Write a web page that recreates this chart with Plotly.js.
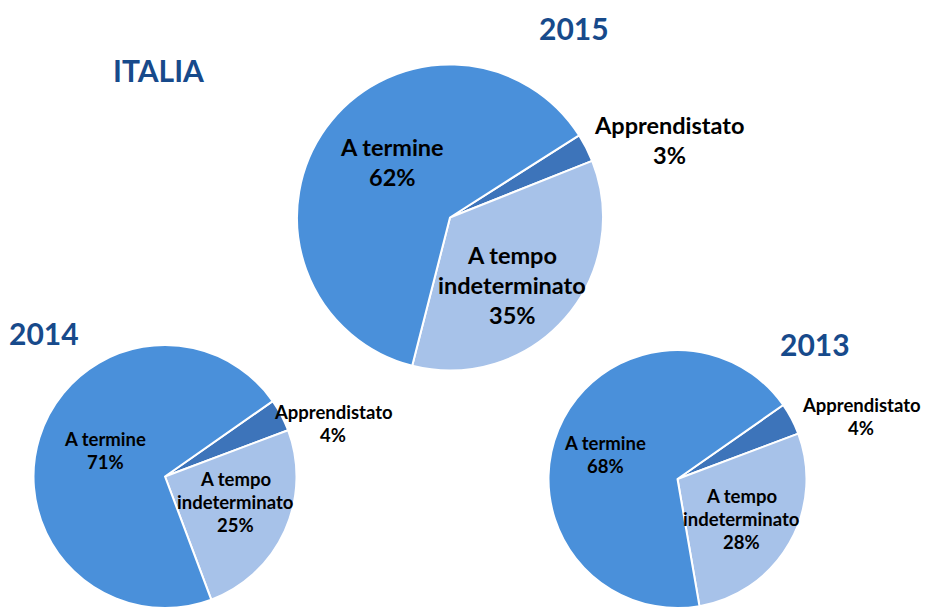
<!DOCTYPE html>
<html>
<head>
<meta charset="utf-8">
<script src="https://cdn.plot.ly/plotly-3.0.1.min.js"></script>
<style>html,body{margin:0;padding:0;background:#fff;}#chart{width:925px;height:608px;}</style>
</head>
<body>
<div id="chart"></div>
<script>
// ---- data ----
const categories = ["Apprendistato", "A tempo indeterminato", "A termine"];
const labelLines = [["Apprendistato"], ["A tempo", "indeterminato"], ["A termine"]];
const years = ["2015", "2014", "2013"];
const values2015 = [3, 35, 62];
const values2014 = [4, 25, 71];
const values2013 = [4, 28, 68];
const mainTitle = "ITALIA";

// ---- styling / layout ----
const W = 925, H = 608;
const colors = ["#3D74BA", "#A7C2E9", "#4A90DA"];
const titleColor = "#174A8B";
const FONT = "Lato, 'Open Sans', sans-serif";

function px(x) { return x / W; }
function py(y) { return 1 - y / H; }

// pie geometry in pixels: [left, right, top, bottom], rotation
const pies = [
  { year: years[0], values: values2015, box: [297, 603, 64, 371], rot: 57.5, font: 23.5, lineGap: 30,
    labelPos: [[669, 125], [512, 255], [392, 147]], titlePos: [574, 28] },
  { year: years[1], values: values2014, box: [33, 297, 345, 609], rot: 55, font: 18.5, lineGap: 23,
    labelPos: [[333, 412], [235, 479], [105, 439]], titlePos: [44, 333] },
  { year: years[2], values: values2013, box: [547, 808, 350, 609], rot: 55, font: 18.5, lineGap: 23,
    labelPos: [[861, 405], [741, 496], [605, 443]], titlePos: [815, 344] }
];

const traces = [];
const annotations = [];

pies.forEach(p => {
  traces.push({
    type: "pie",
    labels: categories,
    values: p.values,
    sort: false,
    direction: "clockwise",
    rotation: p.rot,
    textinfo: "none",
    hoverinfo: "label+percent",
    marker: { colors: colors, line: { color: "#ffffff", width: 2 } },
    domain: { x: [px(p.box[0]), px(p.box[1])], y: [Math.max(0, py(p.box[3])), py(p.box[2])] },
    showlegend: false
  });
  // slice labels: name lines + percentage
  categories.forEach((c, i) => {
    const lines = labelLines[i].concat([p.values[i] + "%"]);
    const [cx, cy] = p.labelPos[i];
    lines.forEach((ln, k) => {
      annotations.push({
        xref: "paper", yref: "paper",
        x: px(cx), y: py(cy + k * p.lineGap),
        xanchor: "center", yanchor: "middle",
        text: "<b>" + ln + "</b>", showarrow: false,
        font: { family: FONT, size: p.font, color: "#000000" }
      });
    });
  });
  annotations.push({
    xref: "paper", yref: "paper",
    x: px(p.titlePos[0]), y: py(p.titlePos[1]),
    xanchor: "center", yanchor: "middle",
    text: "<b>" + p.year + "</b>", showarrow: false,
    font: { family: FONT, size: 30, color: titleColor }
  });
});

annotations.push({
  xref: "paper", yref: "paper",
  x: px(158), y: py(70),
  xanchor: "center", yanchor: "middle",
  text: "<b>" + mainTitle + "</b>", showarrow: false,
  font: { family: FONT, size: 30, color: titleColor }
});

const layout = {
  width: W, height: H,
  margin: { l: 0, r: 0, t: 0, b: 0, pad: 0 },
  paper_bgcolor: "#ffffff",
  plot_bgcolor: "#ffffff",
  annotations: annotations,
  showlegend: false
};

Plotly.newPlot("chart", traces, layout, { displayModeBar: false, staticPlot: true });
</script>
</body>
</html>
